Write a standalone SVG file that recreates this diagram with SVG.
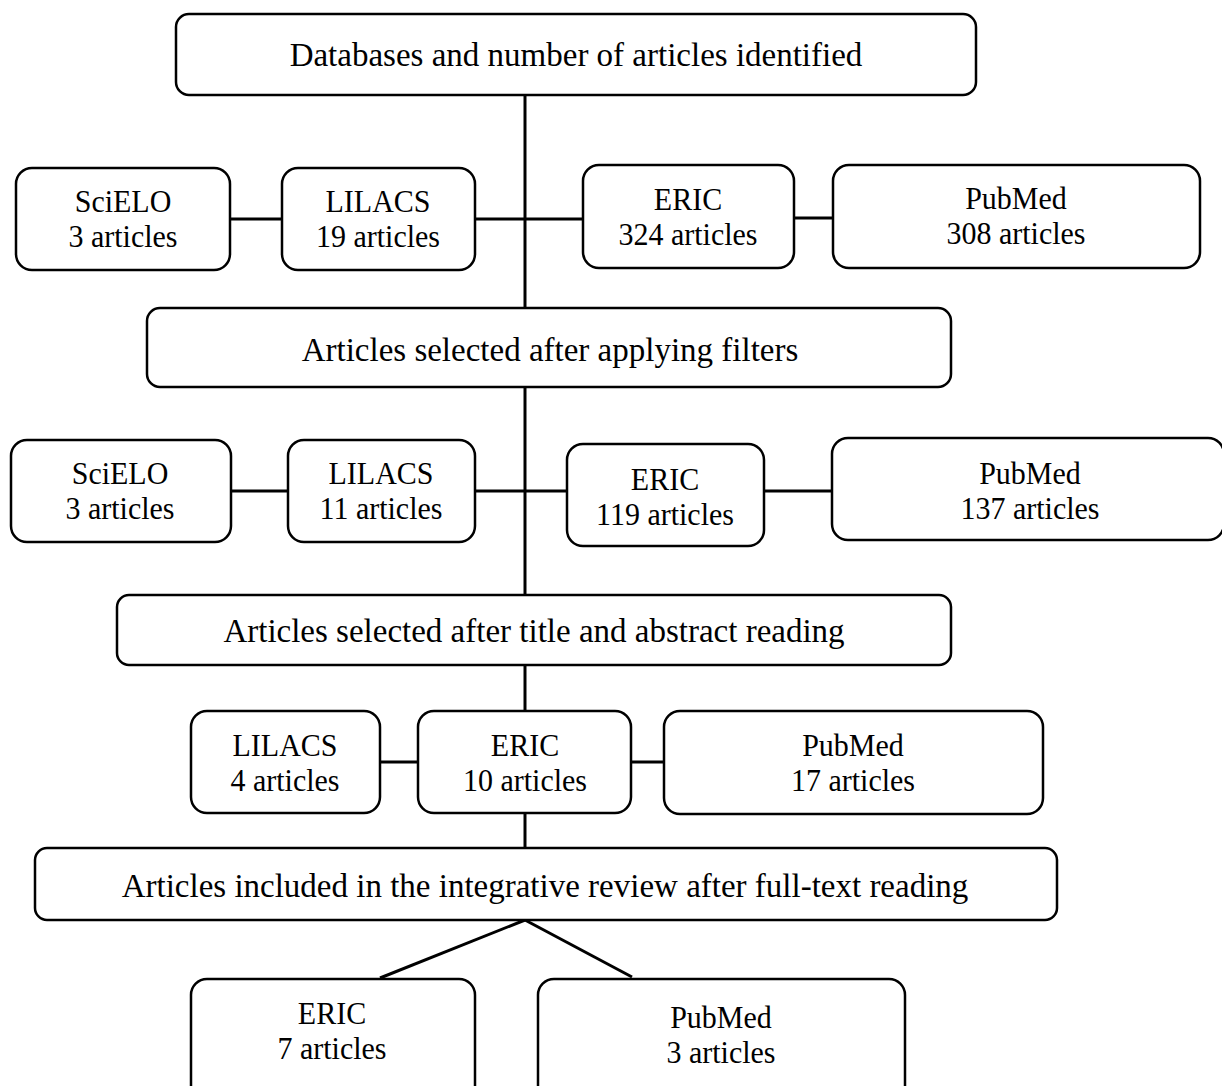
<svg xmlns="http://www.w3.org/2000/svg" width="1222" height="1086" viewBox="0 0 1222 1086">
<style>
.box{fill:#fff;stroke:#000;stroke-width:2.5}
.t{font-family:'Liberation Serif','Times New Roman',Times,serif;font-size:30px;fill:#000;text-anchor:middle}
.h{font-size:33px}
.c line{stroke:#000;stroke-width:3}
</style>
<rect width="1222" height="1086" fill="#fff"/>
<g class="c" id="connectors">
<line x1="525" y1="95" x2="525" y2="308"/>
<line x1="230" y1="219" x2="282" y2="219"/>
<line x1="475" y1="219" x2="583" y2="219"/>
<line x1="794" y1="218" x2="833" y2="218"/>
<line x1="525" y1="387" x2="525" y2="595"/>
<line x1="231" y1="491" x2="288" y2="491"/>
<line x1="475" y1="491" x2="567" y2="491"/>
<line x1="764" y1="491" x2="832" y2="491"/>
<line x1="525" y1="665" x2="525" y2="711"/>
<line x1="380" y1="762" x2="418" y2="762"/>
<line x1="631" y1="762" x2="664" y2="762"/>
<line x1="525" y1="813" x2="525" y2="848"/>
<line x1="525" y1="920" x2="380" y2="978"/>
<line x1="525" y1="920" x2="632" y2="977"/>
</g>
<g id="n-top"><rect class="box" x="176" y="14" width="800" height="81" rx="13"/><text class="t h" x="576" y="66">Databases and number of articles identified</text></g>
<g id="n-scielo1"><rect class="box" x="16" y="168" width="214" height="102" rx="16"/><text class="t" transform="translate(123,212) scale(1,1.07)">SciELO</text><text class="t" transform="translate(123,247) scale(1,1.07)">3 articles</text></g>
<g id="n-lilacs1"><rect class="box" x="282" y="168" width="193" height="102" rx="16"/><text class="t" transform="translate(378,212) scale(1,1.07)">LILACS</text><text class="t" transform="translate(378,247) scale(1,1.07)">19 articles</text></g>
<g id="n-eric1"><rect class="box" x="583" y="165" width="211" height="103" rx="16"/><text class="t" transform="translate(688,210) scale(1,1.07)">ERIC</text><text class="t" transform="translate(688,245) scale(1,1.07)">324 articles</text></g>
<g id="n-pubmed1"><rect class="box" x="833" y="165" width="367" height="103" rx="16"/><text class="t" transform="translate(1016,209) scale(1,1.07)">PubMed</text><text class="t" transform="translate(1016,244) scale(1,1.07)">308 articles</text></g>
<g id="n-filters"><rect class="box" x="147" y="308" width="804" height="79" rx="13"/><text class="t h" x="550" y="361">Articles selected after applying filters</text></g>
<g id="n-scielo2"><rect class="box" x="11" y="440" width="220" height="102" rx="16"/><text class="t" transform="translate(120,484) scale(1,1.07)">SciELO</text><text class="t" transform="translate(120,519) scale(1,1.07)">3 articles</text></g>
<g id="n-lilacs2"><rect class="box" x="288" y="440" width="187" height="102" rx="16"/><text class="t" transform="translate(381,484) scale(1,1.07)">LILACS</text><text class="t" transform="translate(381,519) scale(1,1.07)">11 articles</text></g>
<g id="n-eric2"><rect class="box" x="567" y="444" width="197" height="102" rx="16"/><text class="t" transform="translate(665,490) scale(1,1.07)">ERIC</text><text class="t" transform="translate(665,525) scale(1,1.07)">119 articles</text></g>
<g id="n-pubmed2"><rect class="box" x="832" y="438" width="392" height="102" rx="16"/><text class="t" transform="translate(1030,484) scale(1,1.07)">PubMed</text><text class="t" transform="translate(1030,519) scale(1,1.07)">137 articles</text></g>
<g id="n-title"><rect class="box" x="117" y="595" width="834" height="70" rx="12"/><text class="t h" x="534" y="642">Articles selected after title and abstract reading</text></g>
<g id="n-lilacs3"><rect class="box" x="191" y="711" width="189" height="102" rx="16"/><text class="t" transform="translate(285,756) scale(1,1.07)">LILACS</text><text class="t" transform="translate(285,791) scale(1,1.07)">4 articles</text></g>
<g id="n-eric3"><rect class="box" x="418" y="711" width="213" height="102" rx="16"/><text class="t" transform="translate(525,756) scale(1,1.07)">ERIC</text><text class="t" transform="translate(525,791) scale(1,1.07)">10 articles</text></g>
<g id="n-pubmed3"><rect class="box" x="664" y="711" width="379" height="103" rx="16"/><text class="t" transform="translate(853,756) scale(1,1.07)">PubMed</text><text class="t" transform="translate(853,791) scale(1,1.07)">17 articles</text></g>
<g id="n-fulltext"><rect class="box" x="35" y="848" width="1022" height="72" rx="12"/><text class="t h" x="545" y="897">Articles included in the integrative review after full-text reading</text></g>
<g id="n-eric4"><rect class="box" x="191" y="979" width="284" height="125" rx="16"/><text class="t" transform="translate(332,1024) scale(1,1.07)">ERIC</text><text class="t" transform="translate(332,1059) scale(1,1.07)">7 articles</text></g>
<g id="n-pubmed4"><rect class="box" x="538" y="979" width="367" height="125" rx="16"/><text class="t" transform="translate(721,1028) scale(1,1.07)">PubMed</text><text class="t" transform="translate(721,1063) scale(1,1.07)">3 articles</text></g>
</svg>
